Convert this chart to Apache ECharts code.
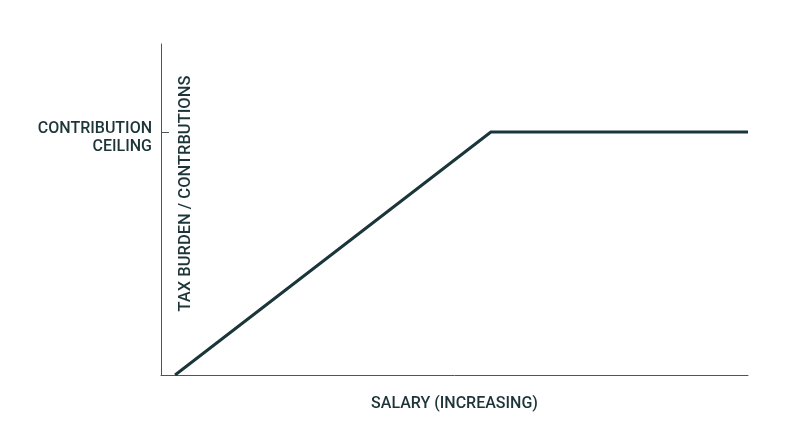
<!DOCTYPE html>
<html>
<head>
<meta charset="utf-8">
<script src="https://cdn.jsdelivr.net/npm/echarts@6/dist/echarts.min.js"></script>
<style>
  html, body { margin: 0; padding: 0; background: #fff; }
  #chart { width: 800px; height: 447px; }
</style>
</head>
<body>
<div id="chart"></div>
<script>
// salary (relative, 0-100) and contributions (1 = ceiling)
const salary = [2.4, 56.2, 100];
const contributions = [0, 1, 1];
const ceilingValue = 1;
const ceilingLabel = 'CONTRIBUTION\nCEILING';
const xName = 'SALARY (INCREASING)';
const yName = 'TAX BURDEN / CONTRBUTIONS';

const textColor = '#1d3539';
const chart = echarts.init(document.getElementById('chart'));

chart.setOption({
  animation: false,
  grid: { left: 161, right: 52, top: 44, bottom: 72 },
  xAxis: {
    type: 'value',
    min: 0,
    max: 100,
    name: xName,
    nameLocation: 'middle',
    nameGap: 21,
    nameTextStyle: { color: textColor, fontSize: 16, fontWeight: 500, fontFamily: 'Roboto' },
    axisLine: { lineStyle: { color: '#4a5658', width: 1 } },
    axisTick: { show: false },
    axisLabel: { show: false },
    splitLine: { show: false }
  },
  yAxis: {
    type: 'value',
    min: 0,
    max: 1.362,
    name: yName,
    nameLocation: 'middle',
    nameRotate: 90,
    nameGap: -33,
    nameTextStyle: {
      color: textColor, fontSize: 16.5, fontWeight: 500, fontFamily: 'Roboto',
      padding: [0, 0, 0, 32]
    },
    axisLine: { show: true, lineStyle: { color: '#4a5658', width: 1 } },
    axisTick: {
      show: true, inside: true, length: 8,
      customValues: [ceilingValue],
      lineStyle: { color: '#4a5658' }
    },
    axisLabel: {
      // label block sits slightly below the tick, as in the original
      customValues: [ceilingValue - 0.025],
      formatter: () => ceilingLabel,
      margin: 9,
      color: textColor,
      fontSize: 16,
      fontWeight: 500,
      lineHeight: 18,
      align: 'right',
      fontFamily: 'Roboto'
    },
    splitLine: { show: false }
  },
  series: [{
    type: 'line',
    data: salary.map((s, i) => [s, contributions[i]]),
    symbol: 'none',
    lineStyle: { color: '#1b363b', width: 3 }
  }]
});
</script>
</body>
</html>
